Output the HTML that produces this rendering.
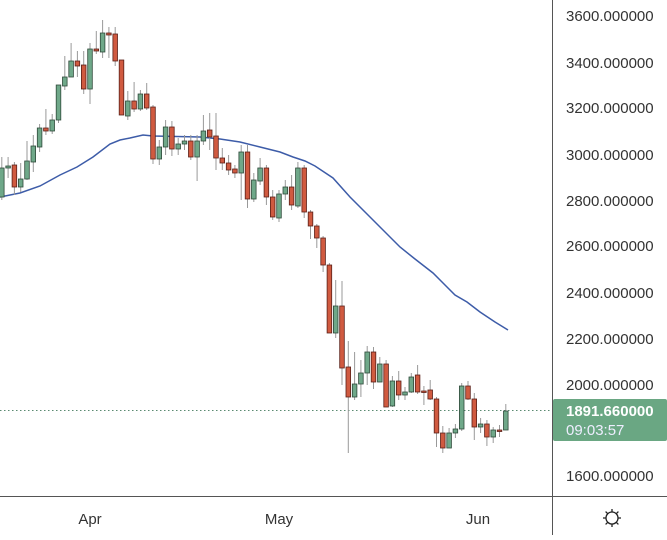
<!DOCTYPE html>
<html><head><meta charset="utf-8"><style>
body{margin:0;background:#fff;width:667px;height:535px;overflow:hidden;font-family:"Liberation Sans",sans-serif}
</style></head><body>
<svg id="s" width="667" height="535" xmlns="http://www.w3.org/2000/svg" font-family="Liberation Sans, sans-serif">
<line x1="552.5" y1="0" x2="552.5" y2="535" stroke="#555" stroke-width="1"/>
<line x1="0" y1="496.5" x2="667" y2="496.5" stroke="#555" stroke-width="1"/>
<line x1="0" y1="410.5" x2="552" y2="410.5" stroke="#5a8a70" stroke-width="1" stroke-dasharray="1.5,2.5"/>
<g font-size="15" fill="#333">
<text x="566" y="21">3600.000000</text>
<text x="566" y="68">3400.000000</text>
<text x="566" y="113">3200.000000</text>
<text x="566" y="160">3000.000000</text>
<text x="566" y="206">2800.000000</text>
<text x="566" y="251">2600.000000</text>
<text x="566" y="298">2400.000000</text>
<text x="566" y="344">2200.000000</text>
<text x="566" y="390">2000.000000</text>
<text x="566" y="481">1600.000000</text>
<text x="90" y="524" text-anchor="middle">Apr</text>
<text x="279" y="524" text-anchor="middle">May</text>
<text x="478" y="524" text-anchor="middle">Jun</text>
</g>
<rect x="553" y="399" width="114" height="42" rx="2" fill="#6aa783"/>
<text x="566" y="416" font-size="15" fill="#fff" font-weight="bold">1891.660000</text>
<text x="566" y="435" font-size="15" fill="#eef">09:03:57</text>
<g stroke="#222" fill="none" stroke-width="1.3">
<circle cx="612" cy="518" r="6"/>
<path d="M612 509v3M612 524v3M603 518h3M618 518h3M605.6 511.6l2 2M616.4 522.4l2 2M605.6 524.4l2-2M616.4 513.6l2-2"/>
</g>
<polyline fill="none" stroke="#3d5ca8" stroke-width="1.5" points="0,197 20,193 40,186 60,175 77,167 93,157 110,144 120,140 130,138 143,135 153,136 200,137 220,139 240,142 260,147 280,152 293,157 305,161 315,166 333,178 350,197 365,212 380,227 400,247 415,259 433,273 445,285 455,295 467,302 480,312 495,322 508,330"/>
<g id="c"></g>
</svg>
<script>
var d=[
[157,200,168,197,'g'],[157,178,166,168,'g'],[162,195,165,187,'r'],[163,192,179,187,'g'],[141,180,161,179,'g'],[135,172,146,162,'g'],[124,152,128,147,'g'],[109,135,128,131,'r'],[114,134,120,131,'g'],[85,123,85,120,'g'],
[56,90,77,86,'g'],[43,77,61,77,'g'],[51,77,61,66,'r'],[51,94,65,89,'r'],[43,104,49,89,'g'],[31,54,49,51,'r'],[20,58,33,52,'g'],[27,58,33,35,'r'],[27,66,34,61,'r'],[60,115,60,115,'r'],
[91,120,101,116,'g'],[82,112,101,109,'r'],[90,111,94,109,'g'],[83,110,94,108,'r'],[105,164,107,159,'r'],[140,165,147,159,'g'],[120,155,127,147,'g'],[121,156,127,149,'r'],[138,155,144,149,'g'],[135,150,141,144,'g'],
[135,160,141,157,'r'],[135,181,141,157,'g'],[115,145,131,141,'g'],[113,150,130,137,'r'],[113,170,136,158,'r'],[148,170,158,163,'r'],[155,175,163,170,'r'],[165,178,169,173,'r'],[145,200,152,173,'g'],[145,208,152,199,'r'],
[173,202,180,199,'g'],[158,185,168,181,'g'],[165,205,168,197,'r'],[190,220,197,217,'r'],[190,222,194,218,'g'],[180,200,187,194,'g'],[175,210,187,205,'r'],[162,208,168,206,'g'],[165,218,168,212,'r'],[210,239,212,226,'r'],
[224,248,226,238,'r'],[236,272,238,265,'r'],[263,333,265,333,'r'],[280,338,306,333,'g'],[281,385,306,368,'r'],[341,453,367,397,'r'],[352,400,384,397,'g'],[360,397,373,384,'g'],[346,385,352,373,'g'],[347,389,352,382,'r'],
[357,382,364,382,'g'],[360,407,364,407,'r'],[376,407,381,406,'g'],[371,400,381,395,'r'],[387,400,392,395,'g'],[373,393,377,392,'g'],[365,394,375,392,'r'],[386,405,391,392,'r'],[380,400,390,399,'r'],[397,447,399,433,'r'],
[426,453,433,448,'r'],[428,448,433,448,'g'],[424,438,429,433,'g'],[383,431,386,429,'g'],[381,400,386,399,'r'],[393,440,399,427,'r'],[418,433,424,427,'g'],[420,446,424,437,'r'],[427,443,430,437,'g'],[425,437,430,431,'r'],[404,430,411,430,'g']];
var h='';
d.forEach(function(c,i){var x=1.8+6.3*i;var t=c[2],b=Math.max(c[3],c[2]+1.5);
h+='<line x1="'+x+'" y1="'+c[0]+'" x2="'+x+'" y2="'+c[1]+'" stroke="#999" stroke-width="1"/>';
h+='<rect x="'+(x-2.3)+'" y="'+t+'" width="4.6" height="'+(b-t)+'" fill="'+(c[4]=='g'?'#6fa889':'#d05a40')+'" stroke="'+(c[4]=='g'?'#2f4a3a':'#5a2018')+'" stroke-width="0.8"/>';});
document.getElementById('c').innerHTML=h;
</script>
</body></html>
